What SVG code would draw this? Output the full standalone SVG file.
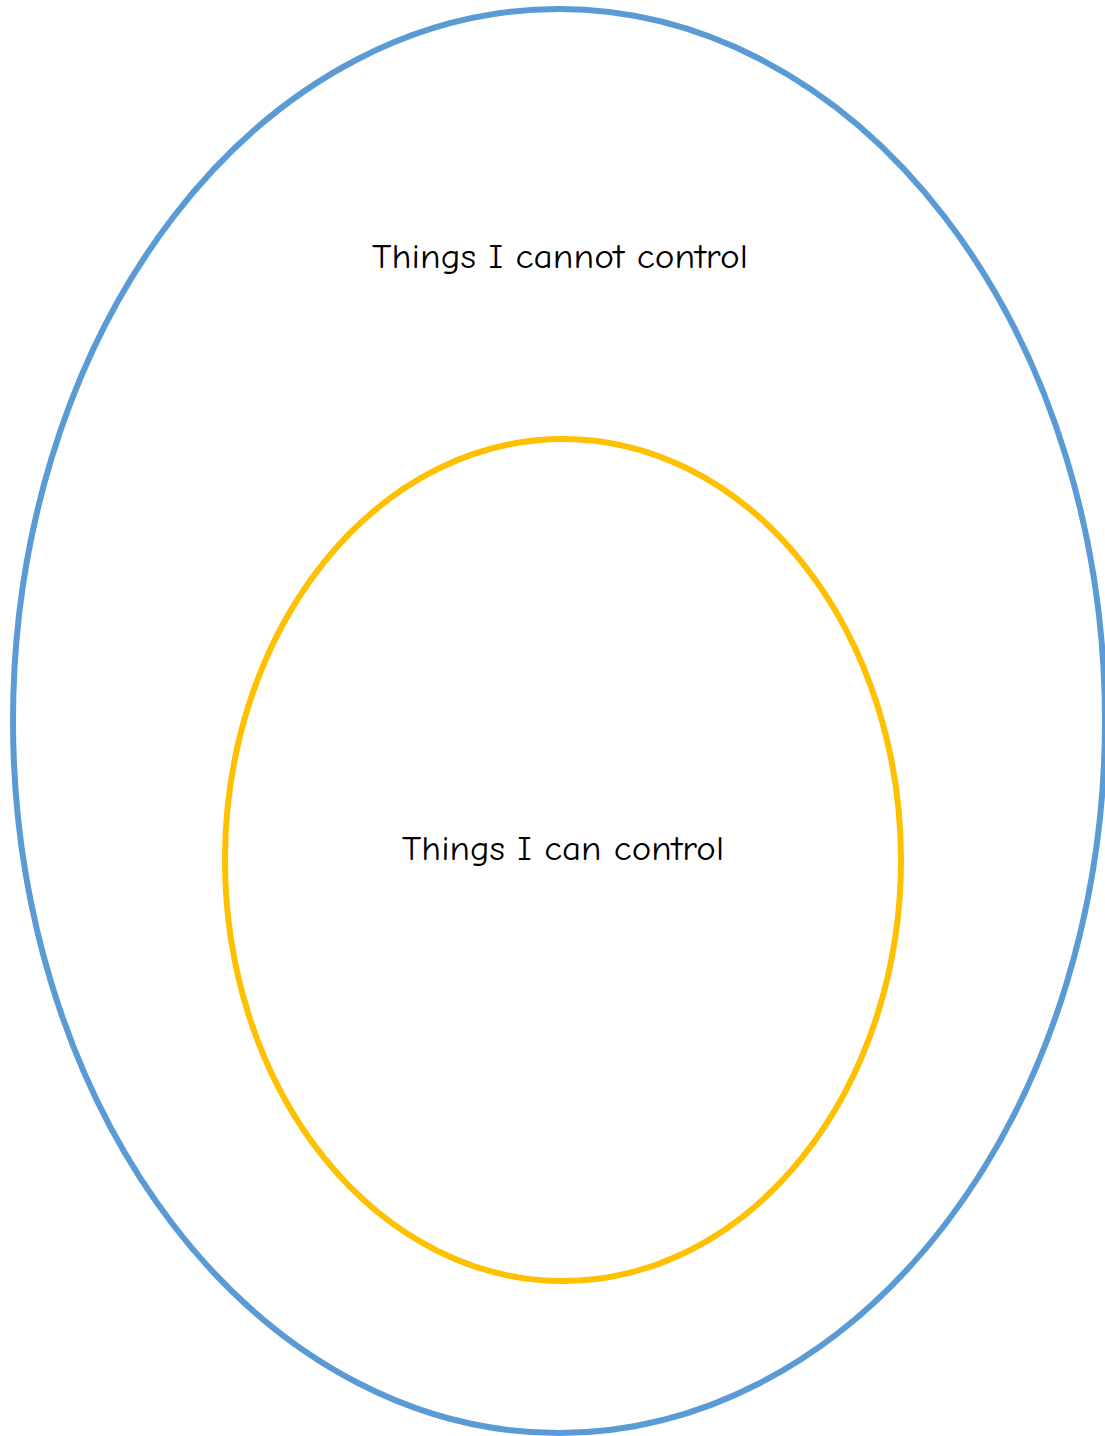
<svg xmlns="http://www.w3.org/2000/svg" width="1105" height="1436" viewBox="0 0 1105 1436">
<style>
.lbl{font-family:"Comic Neue","Liberation Sans","DejaVu Sans",sans-serif;font-size:34px;fill:#000;text-anchor:middle}
</style>
<rect width="1105" height="1436" fill="#fff"/>
<g id="outer">
<ellipse cx="559" cy="721" rx="546" ry="712" fill="none" stroke="#5B9BD5" stroke-width="6"/>
<text class="lbl" x="560" y="268" textLength="376" lengthAdjust="spacingAndGlyphs">Things I cannot control</text>
</g>
<g id="inner">
<ellipse cx="563" cy="860" rx="338" ry="421" fill="none" stroke="#FFC000" stroke-width="6"/>
<text class="lbl" x="563" y="860" textLength="322" lengthAdjust="spacingAndGlyphs">Things I can control</text>
</g>
<g id="connectors"/>
</svg>
